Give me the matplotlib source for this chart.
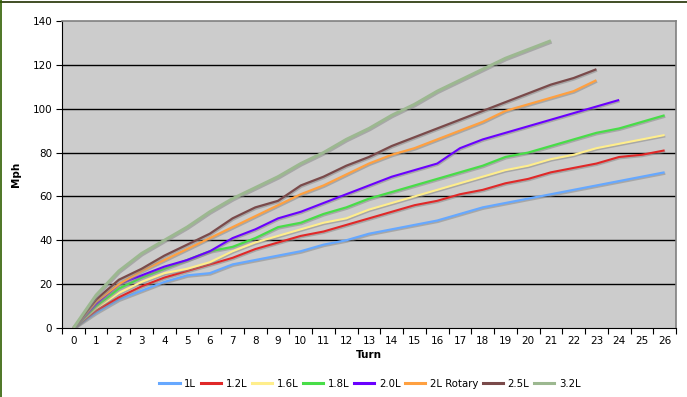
import matplotlib
matplotlib.use("Agg")
import matplotlib.pyplot as plt
import matplotlib.patheffects as pe
from matplotlib.lines import Line2D
import numpy as np

turns = list(range(0, 27))
series_names = ["1L", "1.2L", "1.6L", "1.8L", "2.0L", "2L Rotary", "2.5L", "3.2L"]
s_1L = [0, 7, 13, 17, 21, 24, 25, 29, 31, 33, 35, 38, 40, 43, 45, 47, 49, 52, 55, 57, 59, 61, 63, 65, 67, 69, 71]
s_12L = [0, 8, 14, 19, 23, 26, 29, 32, 36, 39, 42, 44, 47, 50, 53, 56, 58, 61, 63, 66, 68, 71, 73, 75, 78, 79, 81]
s_16L = [0, 9, 16, 21, 25, 27, 30, 35, 39, 42, 45, 48, 50, 54, 57, 60, 63, 66, 69, 72, 74, 77, 79, 82, 84, 86, 88]
s_18L = [0, 10, 18, 23, 27, 31, 35, 37, 41, 46, 48, 52, 55, 59, 62, 65, 68, 71, 74, 78, 80, 83, 86, 89, 91, 94, 97]
s_20L = [0, 11, 20, 24, 28, 31, 35, 41, 45, 50, 53, 57, 61, 65, 69, 72, 75, 82, 86, 89, 92, 95, 98, 101, 104]
s_2LR = [0, 12, 20, 26, 31, 36, 41, 46, 51, 56, 61, 65, 70, 75, 79, 82, 86, 90, 94, 99, 102, 105, 108, 113]
s_25L = [0, 13, 22, 27, 33, 38, 43, 50, 55, 58, 65, 69, 74, 78, 83, 87, 91, 95, 99, 103, 107, 111, 114, 118]
s_32L = [0, 15, 26, 34, 40, 46, 53, 59, 64, 69, 75, 80, 86, 91, 97, 102, 108, 113, 118, 123, 127, 131]
y_ticks = [0, 20, 40, 60, 80, 100, 120, 140]

series = [s_1L, s_12L, s_16L, s_18L, s_20L, s_2LR, s_25L, s_32L]
colors = ["#66A8FF", "#E02828", "#FFEE8C", "#48DD48", "#6A00FF", "#FFA040", "#7A4A4A", "#9CB890"]
widths = [1.6, 1.5, 1.5, 1.6, 1.5, 1.6, 1.6, 2.2]

fig = plt.figure(figsize=(6.87, 3.97), dpi=100)
W, H = 687, 397
ax = fig.add_axes([62 / W, 1 - 328 / H, (676 - 62) / W, (328 - 21) / H])
ax.set_facecolor("#CCCCCC")

shadow = [pe.SimpleLineShadow(offset=(0.5, -1.0), shadow_color="#8a8a8a", alpha=0.55), pe.Normal()]
for name, vals, c, lw in zip(series_names, series, colors, widths):
    ax.plot(turns[:len(vals)], vals, color=c, lw=lw, label=name, path_effects=shadow,
            solid_joinstyle="round", solid_capstyle="butt", zorder=3)

ax.set_xlim(-0.5, 26.5)
ax.set_ylim(0, 140)
ax.set_yticks(y_ticks)
ax.set_yticklabels([str(v) for v in y_ticks], fontsize=7.5)
ax.set_xticks(turns)
ax.set_xticklabels([str(t) for t in turns], fontsize=7.5)
ax.set_xticks(np.arange(-0.5, 27, 1), minor=True)
ax.tick_params(axis="x", which="major", length=0, pad=6)
ax.tick_params(axis="x", which="minor", length=4, width=0.8, direction="out")
ax.tick_params(axis="y", length=4, width=0.8, direction="out", pad=3)

for v in y_ticks[1:-1]:
    ax.axhline(v, color="black", lw=1.0, zorder=1)

ax.spines["top"].set_color("#808080")
ax.spines["right"].set_color("#808080")
ax.spines["top"].set_linewidth(1.2)
ax.spines["right"].set_linewidth(1.2)
ax.spines["left"].set_color("black")
ax.spines["bottom"].set_color("black")

ax.set_xlabel("Turn", fontsize=7.5, fontweight="bold", labelpad=3)
ax.set_ylabel("Mph", fontsize=7.5, fontweight="bold", labelpad=8)

handles = [Line2D([0], [0], color=c, lw=2.2) for c in colors]
fig.legend(handles, series_names, loc="center", bbox_to_anchor=(370 / W, 1 - 384 / H),
           ncol=8, frameon=False, fontsize=7.3, handlelength=2.0, handletextpad=0.45,
           columnspacing=0.45)

# outer border
fig.add_artist(Line2D([0, 1], [1 - 1.5 / H, 1 - 1.5 / H], transform=fig.transFigure, color="#203000", lw=1.2))
fig.add_artist(Line2D([0.7 / W, 0.7 / W], [0, 1], transform=fig.transFigure, color="#2F5F00", lw=1.2))

fig.savefig("out.png", dpi=100)
